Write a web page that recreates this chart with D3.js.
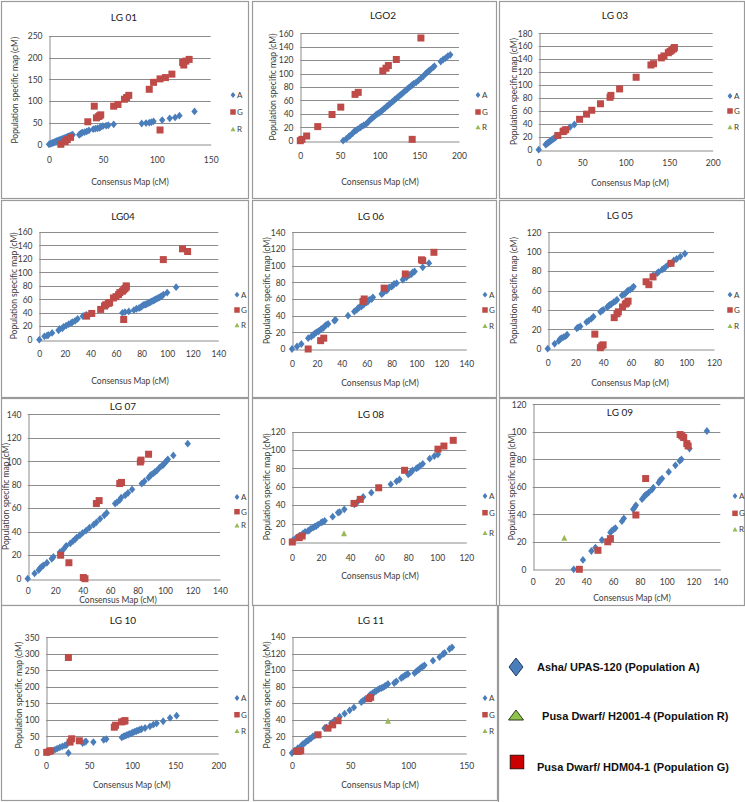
<!DOCTYPE html>
<html><head><meta charset="utf-8">
<script src="https://cdn.jsdelivr.net/npm/d3@7"></script>
<style>
body{margin:0;background:#fff;}
svg{display:block;font-family:Lato,"Open Sans",sans-serif;}
</style></head><body>
<svg id="c" width="745" height="802"></svg>
<script>
// ---------- data ----------
const lg01A=[[0,0],[1,1],[2,2],[3,3],[4,4],[5,5],[6,6],[7,7],[8,8],[9,9],[10,10],[11,11],[12,12],[13,13],[14,14],[15,15],[16,16],[17,17],[18,18],[19,19],[20,20],[21,21],[22,22],[28,22],[29,24],[30,26],[31,27],[33,28],[35,30],[37,32],[41,35],[43,36],[45,37],[47,38],[48,40],[50,42],[53,43],[55,44],[60,46],[86,48],[90,49],[93,50],[95,51],[97,53],[105,56],[112,60],[117,62],[121,66],[135,76]];
const lg01G=[[11,0],[15,6],[17,11],[20,16],[36,52],[42,88],[44,61],[46,64],[47,66],[48,68],[60,88],[64,92],[70,104],[72,108],[74,113],[93,127],[97,143],[103,151],[108,154],[114,162],[103,33],[124,189],[125,183],[127,192],[130,196]];
const lg01R=[];

const lg02A=[[54,0],[58,3],[61,6],[63,8],[66,11],[68,14],[70,15],[72,17],[75,19],[77,21],[80,23],[83,25],[85,27],[87,30],[89,32],[91,34],[93,36],[95,38],[97,40],[99,41],[101,43],[103,45],[105,47],[107,49],[109,51],[111,53],[113,55],[115,57],[117,59],[119,61],[121,63],[123,65],[125,67],[127,69],[129,71],[131,73],[133,75],[135,77],[137,79],[139,81],[141,83],[143,85],[146,87],[149,90],[152,93],[155,96],[158,100],[160,102],[162,104],[164,106],[167,109],[169,111],[177,118],[180,121],[183,123],[186,126],[189,128]];
const lg02G=[[0,0],[2,2],[8,7],[22,21],[40,39],[51,50],[69,69],[73,72],[104,104],[108,108],[111,112],[121,121],[141,2],[152,153]];
const lg02R=[];

const lg03A=[[0,0],[8,8],[9,9],[10,10],[11,11],[12,12],[13,13],[14,14],[15,15],[16,16],[17,17],[18,18],[19,19],[20,20],[36,35],[41,39]];
const lg03G=[[22,22],[28,28],[29,29],[31,31],[47,47],[55,55],[61,61],[71,71],[82,81],[83,84],[93,94],[112,112],[129,131],[132,133],[141,142],[144,145],[149,150],[151,152],[153,154],[155,156],[156,158]];
const lg03R=[];

const lg04A=[[0,0],[4,5],[6,6],[7,7],[10,10],[15,14],[16,16],[18,17],[19,19],[21,21],[23,23],[25,25],[26,26],[28,28],[30,31],[34,35],[36,36],[37,37],[65,40],[67,41],[70,42],[74,44],[76,46],[78,47],[79,48],[80,49],[81,51],[82,52],[83,52],[84,53],[85,54],[86,55],[87,56],[88,57],[89,58],[90,59],[91,60],[92,61],[93,62],[94,63],[95,64],[96,65],[97,67],[100,70],[107,78]];
const lg04G=[[37,35],[41,39],[48,45],[51,50],[52,52],[54,54],[55,55],[58,62],[60,64],[62,67],[63,70],[65,72],[66,74],[67,76],[68,78],[68,80],[66,30],[97,119],[112,135],[116,131]];
const lg04R=[];

const lg06A=[[0,0],[4,3],[7.5,6],[13,13],[15.5,15],[17,17],[18,18],[19.5,20],[21,21],[22,22],[23.5,24],[25,25],[26,27],[27.5,29],[29,30],[34,34],[35,35],[45,40],[50,45],[52,47],[53,49],[54,50],[55.7,51],[57,53],[58,54],[60,56],[61,57],[62,59],[64,60],[65,62],[72,66],[73,67],[74,69],[76,70],[77,72],[78,74],[80,75],[81,76],[82,78],[84,79],[89,83],[90,85],[92,86],[93,88],[94.5,89],[96,90],[97,92],[98.5,93],[105,98],[110,103]];
const lg06G=[[13,0],[23,10],[25.5,13],[57,57],[58,60],[74,73],[91,90],[104,107],[105,106],[114,116]];
const lg06R=[];

const lg05A=[[0,0],[5,5],[8,8],[9,10],[10,11],[11.5,12],[13,13],[14,14.5],[21,21],[22,22],[23.5,23],[28,27.5],[29.6,29],[31.5,31],[33,33],[38,38],[39,39],[40,40],[43,43],[44,44],[45,45.5],[46,46],[47.6,48],[49,49],[50,50.5],[53.6,55],[55,56],[56,57],[57,58.5],[58,60],[59.6,61],[61,62.6],[62,64],[76,75.6],[79,78],[80,79],[82.5,81.5],[83.7,82.5],[85,84],[87,86.7],[88.5,87.7],[91,91],[93,92.5],[95.7,95],[99,98]];
const lg05G=[[34,15],[38,1],[39,3],[40,4],[48,32],[50,36],[51,38],[54,43],[56,46],[57,47],[58,49],[71,69],[73,66],[76,74],[89,88]];
const lg05R=[];

const lg07A=[[0,0],[5,4.5],[8,7.4],[9,9],[10,10],[11.4,11.4],[14,13.6],[17.5,17],[18.7,18.5],[23.5,22.7],[26,25],[28,28],[31,30],[33,32],[34.5,33.5],[35.7,35],[38,37],[40,39],[42.5,41],[45,43.5],[48,46],[50,48],[52.7,51],[55.8,54],[57.5,56],[63.6,64],[65,65],[67,67],[68,69],[71,71],[73,73],[76,76],[83,81],[85,83],[88,86],[89,87.5],[90,88.6],[91.5,89.7],[92.7,91],[94,92],[96,94.6],[97.5,96],[98.8,97],[100,99],[101,100],[102,101.7],[106,105],[116.5,115]];
const lg07G=[[24,20],[30,13.6],[40.5,1],[41.7,0],[50,64],[52,66.5],[67,81],[68.3,82],[82,99.4],[82.5,101],[88,106]];
const lg07R=[];

const lg08A=[[0.7,2],[2.3,3.6],[3.7,5.4],[5.3,7],[7.6,9.4],[9,11],[11,12],[12,13],[13,14.5],[14.5,15.6],[15.6,16.7],[16.7,17.4],[18,19],[20,21],[21,22],[22.5,23],[28,27.6],[31.7,32],[32.8,32.6],[36,35.5],[43,41],[45,43.5],[49,49],[54.6,53.7],[68,62.7],[72,66],[74,68],[80,73.6],[81,74.7],[82,76],[83,78],[85.6,80],[86.7,81],[88,82.7],[90,85],[94.8,90.6],[98,93.5],[100.5,95.4]];
const lg08G=[[0.2,0],[5,4.7],[7,6.5],[77.5,78],[42.7,42],[47,46.4],[59.7,59],[100.5,101],[104.6,104.4],[111,110.6]];
const lg08R=[[35.8,9.4]];

const lg09A=[[30.6,0],[37.5,6.8],[43.8,13.3],[46.8,15.8],[51.7,21.3],[58,26.7],[59,28],[60.4,29],[61.7,30],[66.6,35],[68,37],[75,43.6],[76,45],[77,46.5],[81.6,51],[83,52.6],[84,54],[85,54.5],[86.5,55.8],[89,58],[90,59.4],[94,63],[95,64.7],[96.5,66],[101.5,70.8],[106.5,75.6],[109.7,78.8],[111,80],[117,87.8],[130,100.6]];
const lg09G=[[34.8,0],[48.7,13.8],[56,20],[58,22.3],[77,39.5],[84.3,66],[110,98],[111.4,97],[112.7,95.8],[115,91.4],[116,89.7]];
const lg09R=[[23.6,23]];

const lg10A=[[2,2],[6,6],[10.4,10],[13,13],[16,17],[19,20],[22,23],[24,25],[26,0],[42.5,30],[45,33],[46.4,35],[55,33],[67,40],[70,42],[88,47],[90,50],[91.7,52],[93.6,54],[95.5,56],[97.5,58],[99.4,60],[101,62.5],[103,64.5],[105,66.5],[107,68.6],[109,70.6],[111,72.6],[115,75.6],[120.7,80.7],[124.6,85.7],[128.4,89.8],[136,96],[144,106],[151.6,113]];
const lg10G=[[0.8,2],[3.9,5],[5.4,7],[26,289],[28,33],[29.8,43],[38.7,37],[79.3,78],[80.8,84],[87.8,94],[90.5,96],[91.7,98]];
const lg10R=[];

const lg11A=[[0,0],[2.3,2.8],[5,6],[8,9],[9.5,10.9],[11,12],[12.3,14],[13.8,15],[15.2,17],[16.6,18],[18,20],[19.5,21],[28,30],[29.5,31],[33.8,36],[36.7,39.4],[41,43.8],[45.3,47.5],[49.6,51.5],[53.3,55],[59.6,61.5],[61,63],[62.5,64.4],[66.8,69.6],[68,71],[69.7,72.4],[71,73.6],[72.6,75],[74,76.4],[75.4,77.6],[76.9,78.4],[78.3,79.2],[79.7,80.5],[81,81.7],[82.6,83.3],[88,84.5],[89.8,86.5],[94,90.5],[95.5,91.7],[97,93.3],[98.4,94.5],[99.8,95.3],[105.5,96.5],[107,98.5],[108.4,100],[109.8,101.4],[111.3,103.4],[112.7,104.6],[114,105.8],[121.3,111.4],[127,115.8],[130,119.5],[131.3,120.7],[135.6,125.5],[137.7,127.5]];
const lg11G=[[3.7,2],[5.7,2],[7.5,2.8],[22.4,22],[31,30],[35,34],[39.6,39],[66,65.6],[67.7,67.2]];
const lg11R=[[82.6,39]];

const titles=["LG 01","LGO2","LG 03","LG04","LG 06","LG 05","LG 07","LG 08","LG 09","LG 10","LG 11"];
const xMaxes=[150,200,200,140,140,120,140,120,140,200,150];
const xSteps=[50,50,50,20,20,20,20,20,20,50,50];
const yMaxes=[250,160,180,160,140,120,140,120,120,350,140];
const ySteps=[50,20,20,20,20,20,20,20,20,50,20];
const seriesA=[lg01A,lg02A,lg03A,lg04A,lg06A,lg05A,lg07A,lg08A,lg09A,lg10A,lg11A];
const seriesG=[lg01G,lg02G,lg03G,lg04G,lg06G,lg05G,lg07G,lg08G,lg09G,lg10G,lg11G];
const seriesR=[lg01R,lg02R,lg03R,lg04R,lg06R,lg05R,lg07R,lg08R,lg09R,lg10R,lg11R];
const legendLabels=["Asha/ UPAS-120 (Population A)"," Pusa Dwarf/ H2001-4 (Population R)","Pusa Dwarf/ HDM04-1 (Population G)"];

// ---------- layout ----------
const layouts=[
 {box:[1,1,248,198],plot:[49,36,210.7,144.3],title:[124,17],leg:[233,95,112,129],xPad:12,xLab:[130,182],yLabX:15},
 {box:[252,1,496,198],plot:[300.3,33.3,459,140.7],title:[383,15],leg:[478,95,112,127],xPad:11,xLab:[380,182],yLabX:273},
 {box:[499,1,744,198],plot:[538.7,33.3,712.7,149.7],title:[615,15],leg:[730,96,111,127],xPad:9,xLab:[630,183],yLabX:514},
 {box:[1,200,248,397],plot:[39.3,232,218.3,339.7],title:[123,216],leg:[237,294.7,310,325],xPad:10.5,xLab:[130,380.7],yLabX:14},
 {box:[252,200,496,397],plot:[292,232.3,466.3,349],title:[371,216],leg:[485,294.7,310,325.7],xPad:11,xLab:[380,383],yLabX:267},
 {box:[499,200,744,397],plot:[547.7,232.3,714,348.7],title:[620,215],leg:[730,294.7,310,325.7],xPad:10.5,xLab:[630,383],yLabX:514},
 {box:[1,398,248,605],plot:[27.7,414.3,220,578.7],title:[123,406],leg:[237,497,511.7,525.3],xPad:8,xLab:[118,600],yLabX:6},
 {box:[252,398,496,605],plot:[292,431.7,466.3,542],title:[371,414.3],leg:[485,496,512.7,532.7],xPad:12,xLab:[380,576],yLabX:267},
 {box:[499,398,744,605],plot:[532.7,404.3,720.3,569.3],title:[620,412.7],leg:[735,496,513.3,529.3],xPad:9.5,xLab:[632,598],yLabX:512},
 {box:[1,605,248,800],plot:[46,637.3,218.3,753],title:[123,620.3],leg:[237,698,714.7,730.7],xPad:9,xLab:[131.7,785.3],yLabX:19},
 {box:[253,605,497,800],plot:[292,637,466.3,753],title:[371,620.3],leg:[485,698,714.7,730.7],xPad:9,xLab:[380,785.3],yLabX:267}
];

const BLUE="#4a7ebb", RED="#be4b48", GREEN="#98b954", GRID="#8c8c8c", TXT="#3a3a3a";
const svg=d3.select("#c");

function diamond(g,x,y,hw,hh,fill,stroke){
  g.append("path").attr("d",`M${x},${y-hh}L${x+hw},${y}L${x},${y+hh}L${x-hw},${y}Z`).attr("fill",fill).attr("stroke",stroke||"none");
}
function square(g,x,y,s,fill,stroke){
  g.append("rect").attr("x",x-s/2).attr("y",y-s/2).attr("width",s).attr("height",s).attr("fill",fill).attr("stroke",stroke||"none");
}
function tri(g,x,y,hw,hh,fill,stroke){
  g.append("path").attr("d",`M${x},${y-hh}L${x+hw},${y+hh}L${x-hw},${y+hh}Z`).attr("fill",fill).attr("stroke",stroke||"none");
}

titles.forEach((t,i)=>{
  const L=layouts[i];
  const g=svg.append("g");
  g.append("rect").attr("x",L.box[0]+0.5).attr("y",L.box[1]+0.5)
    .attr("width",L.box[2]-L.box[0]).attr("height",L.box[3]-L.box[1])
    .attr("fill","#fff").attr("stroke","#9a9a9a").attr("stroke-width",1.2);
  const x=d3.scaleLinear().domain([0,xMaxes[i]]).range([L.plot[0],L.plot[2]]);
  const y=d3.scaleLinear().domain([0,yMaxes[i]]).range([L.plot[3],L.plot[1]]);
  const xt=d3.range(0,xMaxes[i]+0.001,xSteps[i]);
  const yt=d3.range(0,yMaxes[i]+0.001,ySteps[i]);
  // gridlines
  g.selectAll(null).data(yt.slice(1)).enter().append("line")
    .attr("x1",x(0)).attr("x2",x(xMaxes[i])).attr("y1",d=>Math.round(y(d))+0.5).attr("y2",d=>Math.round(y(d))+0.5)
    .attr("stroke",GRID).attr("stroke-width",1);
  const ax=g.append("g").attr("transform",`translate(0,${Math.round(y(0))+0.5})`)
    .call(d3.axisBottom(x).tickValues(xt).tickFormat(d3.format("d")).tickSize(0).tickPadding(L.xPad));
  const ay=g.append("g").attr("transform",`translate(${Math.round(x(0))+0.5},0)`)
    .call(d3.axisLeft(y).tickValues(yt).tickFormat(d3.format("d")).tickSize(0).tickPadding(7));
  [ax,ay].forEach(a=>{
    a.select(".domain").attr("stroke",GRID);
    a.selectAll("text").attr("fill",TXT).style("font-size","8.5px").style("font-family","Lato,'Open Sans',sans-serif");
  });
  // title
  g.append("text").attr("x",L.title[0]).attr("y",L.title[1]).attr("dy","0.35em").attr("text-anchor","middle")
    .style("font-size","10px").attr("fill","#1a1a1a").text(t);
  // axis titles
  g.append("text").attr("x",L.xLab[0]).attr("y",L.xLab[1]).attr("dy","0.35em").attr("text-anchor","middle")
    .style("font-size","8.5px").attr("fill",TXT).text("Consensus Map (cM)");
  const cy=(L.plot[1]+L.plot[3])/2;
  g.append("text").attr("transform",`translate(${L.yLabX},${cy}) rotate(-90)`).attr("dy","0.35em").attr("text-anchor","middle")
    .style("font-size","8.5px").attr("fill",TXT).text("Population specific map (cM)");
  // data
  seriesA[i].forEach(d=>diamond(g,x(d[0]),y(d[1]),3.2,3.9,BLUE));
  seriesG[i].forEach(d=>square(g,x(d[0]),y(d[1]),7,RED));
  seriesR[i].forEach(d=>tri(g,x(d[0]),y(d[1]),3,3,GREEN));
  // panel legend
  const lx=L.leg[0];
  diamond(g,lx,L.leg[1],2.4,2.9,BLUE);
  square(g,lx,L.leg[2],5.5,RED);
  tri(g,lx,L.leg[3],2.5,2.3,GREEN);
  ["A","G","R"].forEach((s,k)=>g.append("text").attr("x",lx+4).attr("y",L.leg[k+1]).attr("dy","0.35em")
    .style("font-size","8px").attr("fill",TXT).text(s));
});

// main legend panel
const lg=svg.append("g");
lg.append("line").attr("x1",498.5).attr("x2",498.5).attr("y1",605).attr("y2",802).attr("stroke","#9a9a9a").attr("stroke-width",1.2);
diamond(lg,516,667,7,9,BLUE,"#1f3a5f");
tri(lg,516,715,7.5,5,"#8fc44a","#2c3a1a");
square(lg,517,762,13.5,"#cc0000","#3a0a0a");
const lgY=[667,716,767], lgX=[537,539,537];
legendLabels.forEach((s,k)=>lg.append("text").attr("x",lgX[k]).attr("y",lgY[k]).attr("dy","0.35em")
  .style("font-size","11px").style("font-weight","bold").style("font-family","'Liberation Sans',Arial,sans-serif")
  .attr("fill","#111").attr("xml:space","preserve").style("white-space","pre").text(s));
</script>
</body></html>
